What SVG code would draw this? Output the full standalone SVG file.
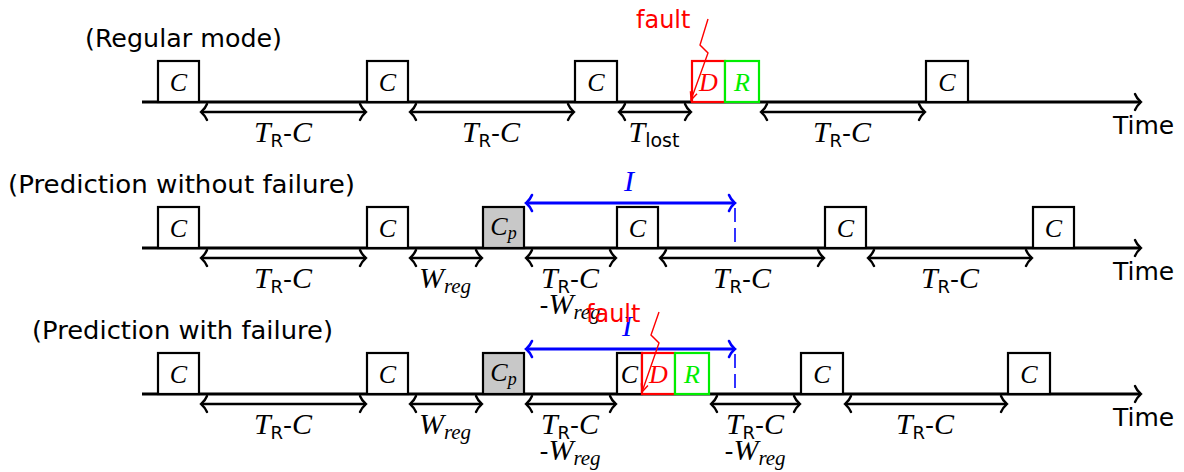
<svg xmlns="http://www.w3.org/2000/svg" width="1184" height="472" viewBox="0 0 1184 472">
<style>
.axis{stroke:#000;stroke-width:3;fill:none}
.box{stroke:#000;stroke-width:2.2;fill:#fff}
.boxp{stroke:#000;stroke-width:2.2;fill:#c8c8c8}
.dbox{stroke:#ff0000;stroke-width:2.2;fill:#fff}
.rbox{stroke:#00ee00;stroke-width:2.2;fill:#fff}
.dim{stroke:#000;stroke-width:2.4;fill:none;marker-start:url(#ah);marker-end:url(#ah)}
.iarr{stroke:#0000ff;stroke-width:2.8;fill:none;marker-start:url(#bh);marker-end:url(#bh)}
.dash{stroke:#0000ff;stroke-width:1.6;fill:none;stroke-dasharray:14 6}
.flt{stroke:#ff0000;stroke-width:1.4;fill:none;marker-end:url(#rh)}
.sans{font-family:"DejaVu Sans",sans-serif}
.m{font-family:"Liberation Serif",serif;font-style:italic}
.s{font-family:"DejaVu Sans",sans-serif;font-style:normal}
.lbl{font-size:30px;fill:#000}
.bt{font-size:26px;fill:#000}
.mode{font-size:25px;fill:#000}
.red{fill:#ff0000}
.grn{fill:#00ee00}
.blu{fill:#0000ff}
</style>
<defs>
<marker id="ah" viewBox="-10 -10 20 20" markerWidth="20" markerHeight="20" markerUnits="userSpaceOnUse" orient="auto-start-reverse" refX="0" refY="0">
<path d="M-6,-8 C-4,-3 -1,-1 0,0 C-1,1 -4,3 -6,8" fill="none" stroke="#000" stroke-width="2.4" stroke-linecap="round"/>
</marker>
<marker id="bh" viewBox="-10 -10 20 20" markerWidth="20" markerHeight="20" markerUnits="userSpaceOnUse" orient="auto-start-reverse" refX="0" refY="0">
<path d="M-6,-8 C-4,-3 -1,-1 0,0 C-1,1 -4,3 -6,8" fill="none" stroke="#0000ff" stroke-width="2.6" stroke-linecap="round"/>
</marker>
<marker id="rh" viewBox="-10 -10 20 20" markerWidth="20" markerHeight="20" markerUnits="userSpaceOnUse" orient="auto" refX="0" refY="0">
<path d="M-8,-3.5 L0,0 L-8,3.5" fill="none" stroke="#ff0000" stroke-width="1.4"/>
</marker>
</defs>

<!-- mode labels -->
<g id="label-regular"><text class="sans mode" x="85" y="47" textLength="197" lengthAdjust="spacingAndGlyphs">(Regular mode)</text></g>
<g id="label-pred-nofail"><text class="sans mode" x="8" y="193" textLength="347" lengthAdjust="spacingAndGlyphs">(Prediction without failure)</text></g>
<g id="label-pred-fail"><text class="sans mode" x="32" y="339" textLength="301" lengthAdjust="spacingAndGlyphs">(Prediction with failure)</text></g>

<!-- connectors -->
<g id="connectors">
<line class="axis" x1="142" y1="102" x2="1141" y2="102" marker-end="url(#ah)"/>
<line class="axis" x1="142" y1="248" x2="1141" y2="248" marker-end="url(#ah)"/>
<line class="axis" x1="142" y1="394" x2="1141" y2="394" marker-end="url(#ah)"/>
<!-- row 1 dims -->
<line class="dim" x1="201" y1="112" x2="366" y2="112"/>
<line class="dim" x1="410" y1="112" x2="574" y2="112"/>
<line class="dim" x1="619" y1="112" x2="691" y2="112"/>
<line class="dim" x1="761" y1="112" x2="925" y2="112"/>
<!-- row 2 dims -->
<line class="dim" x1="201" y1="258" x2="366" y2="258"/>
<line class="dim" x1="410" y1="258" x2="482" y2="258"/>
<line class="dim" x1="526" y1="258" x2="616" y2="258"/>
<line class="dim" x1="660" y1="258" x2="824" y2="258"/>
<line class="dim" x1="868" y1="258" x2="1032" y2="258"/>
<!-- row 3 dims -->
<line class="dim" x1="201" y1="404" x2="366" y2="404"/>
<line class="dim" x1="410" y1="404" x2="482" y2="404"/>
<line class="dim" x1="526" y1="404" x2="616" y2="404"/>
<line class="dim" x1="711" y1="404" x2="800" y2="404"/>
<line class="dim" x1="845" y1="404" x2="1007" y2="404"/>
<!-- interval I -->
<line class="iarr" x1="526" y1="203" x2="735" y2="203"/>
<line class="dash" x1="735" y1="208" x2="735" y2="248"/>
<line class="iarr" x1="526" y1="349" x2="735" y2="349"/>
<line class="dash" x1="735" y1="354" x2="735" y2="394"/>
</g>

<!-- row 1 boxes -->
<g id="r1-c1"><rect class="box" x="158" y="61" width="41" height="41"/><text class="m bt" x="178.5" y="91" text-anchor="middle">C</text></g>
<g id="r1-c2"><rect class="box" x="367" y="61" width="41" height="41"/><text class="m bt" x="387.5" y="91" text-anchor="middle">C</text></g>
<g id="r1-c3"><rect class="box" x="575" y="61" width="42" height="41"/><text class="m bt" x="596" y="91" text-anchor="middle">C</text></g>
<g id="r1-d"><rect class="dbox" x="692" y="61" width="33" height="41"/><text class="m bt red" x="708.5" y="91" text-anchor="middle">D</text></g>
<g id="r1-r"><rect class="rbox" x="725" y="61" width="34" height="41"/><text class="m bt grn" x="742" y="91" text-anchor="middle">R</text></g>
<g id="r1-c5"><rect class="box" x="926" y="61" width="42" height="41"/><text class="m bt" x="947" y="91" text-anchor="middle">C</text></g>

<!-- row 2 boxes -->
<g id="r2-c1"><rect class="box" x="158" y="207" width="41" height="41"/><text class="m bt" x="178.5" y="237" text-anchor="middle">C</text></g>
<g id="r2-c2"><rect class="box" x="367" y="207" width="41" height="41"/><text class="m bt" x="387.5" y="237" text-anchor="middle">C</text></g>
<g id="r2-cp"><rect class="boxp" x="483" y="207" width="41" height="41"/><text class="m bt" x="503.5" y="235" text-anchor="middle">C<tspan font-size="18" dy="4">p</tspan></text></g>
<g id="r2-c4"><rect class="box" x="617" y="207" width="41" height="41"/><text class="m bt" x="637.5" y="237" text-anchor="middle">C</text></g>
<g id="r2-c5"><rect class="box" x="825" y="207" width="41" height="41"/><text class="m bt" x="845.5" y="237" text-anchor="middle">C</text></g>
<g id="r2-c6"><rect class="box" x="1033" y="207" width="41" height="41"/><text class="m bt" x="1053.5" y="237" text-anchor="middle">C</text></g>

<!-- row 3 boxes -->
<g id="r3-c1"><rect class="box" x="158" y="353" width="41" height="41"/><text class="m bt" x="178.5" y="383" text-anchor="middle">C</text></g>
<g id="r3-c2"><rect class="box" x="367" y="353" width="41" height="41"/><text class="m bt" x="387.5" y="383" text-anchor="middle">C</text></g>
<g id="r3-cp"><rect class="boxp" x="483" y="353" width="41" height="41"/><text class="m bt" x="503.5" y="381" text-anchor="middle">C<tspan font-size="18" dy="4">p</tspan></text></g>
<g id="r3-c4"><rect class="box" x="617" y="353" width="25" height="41"/><text class="m bt" x="629.5" y="383" text-anchor="middle">C</text></g>
<g id="r3-d"><rect class="dbox" x="642" y="353" width="33" height="41"/><text class="m bt red" x="658.5" y="383" text-anchor="middle">D</text></g>
<g id="r3-r"><rect class="rbox" x="675" y="353" width="34" height="41"/><text class="m bt grn" x="692" y="383" text-anchor="middle">R</text></g>
<g id="r3-c5"><rect class="box" x="801" y="353" width="42" height="41"/><text class="m bt" x="822" y="383" text-anchor="middle">C</text></g>
<g id="r3-c6"><rect class="box" x="1008" y="353" width="42" height="41"/><text class="m bt" x="1029" y="383" text-anchor="middle">C</text></g>

<!-- dimension labels -->
<g id="labels" class="lbl">
<!-- row 1 -->
<text x="283" y="142" text-anchor="middle"><tspan class="m">T</tspan><tspan class="s" font-size="18" dy="5">R</tspan><tspan class="s" font-size="25" dy="-5">-</tspan><tspan class="m">C</tspan></text>
<text x="491" y="142" text-anchor="middle"><tspan class="m">T</tspan><tspan class="s" font-size="18" dy="5">R</tspan><tspan class="s" font-size="25" dy="-5">-</tspan><tspan class="m">C</tspan></text>
<text x="654" y="142" text-anchor="middle"><tspan class="m">T</tspan><tspan class="s" font-size="19" dy="5">lost</tspan></text>
<text x="842" y="142" text-anchor="middle"><tspan class="m">T</tspan><tspan class="s" font-size="18" dy="5">R</tspan><tspan class="s" font-size="25" dy="-5">-</tspan><tspan class="m">C</tspan></text>
<!-- row 2 -->
<text x="283" y="288" text-anchor="middle"><tspan class="m">T</tspan><tspan class="s" font-size="18" dy="5">R</tspan><tspan class="s" font-size="25" dy="-5">-</tspan><tspan class="m">C</tspan></text>
<text x="445" y="288" text-anchor="middle"><tspan class="m">W</tspan><tspan class="m" font-size="21" dy="5">reg</tspan></text>
<text x="570" y="288" text-anchor="middle"><tspan class="m">T</tspan><tspan class="s" font-size="18" dy="5">R</tspan><tspan class="s" font-size="25" dy="-5">-</tspan><tspan class="m">C</tspan></text>
<text x="570" y="314" text-anchor="middle"><tspan class="s" font-size="25">-</tspan><tspan class="m">W</tspan><tspan class="m" font-size="21" dy="5">reg</tspan></text>
<text x="742" y="288" text-anchor="middle"><tspan class="m">T</tspan><tspan class="s" font-size="18" dy="5">R</tspan><tspan class="s" font-size="25" dy="-5">-</tspan><tspan class="m">C</tspan></text>
<text x="950" y="288" text-anchor="middle"><tspan class="m">T</tspan><tspan class="s" font-size="18" dy="5">R</tspan><tspan class="s" font-size="25" dy="-5">-</tspan><tspan class="m">C</tspan></text>
<text class="m blu" x="629" y="191" text-anchor="middle">I</text>
<!-- row 3 -->
<text x="283" y="434" text-anchor="middle"><tspan class="m">T</tspan><tspan class="s" font-size="18" dy="5">R</tspan><tspan class="s" font-size="25" dy="-5">-</tspan><tspan class="m">C</tspan></text>
<text x="445" y="434" text-anchor="middle"><tspan class="m">W</tspan><tspan class="m" font-size="21" dy="5">reg</tspan></text>
<text x="570" y="434" text-anchor="middle"><tspan class="m">T</tspan><tspan class="s" font-size="18" dy="5">R</tspan><tspan class="s" font-size="25" dy="-5">-</tspan><tspan class="m">C</tspan></text>
<text x="570" y="460" text-anchor="middle"><tspan class="s" font-size="25">-</tspan><tspan class="m">W</tspan><tspan class="m" font-size="21" dy="5">reg</tspan></text>
<text x="755" y="434" text-anchor="middle"><tspan class="m">T</tspan><tspan class="s" font-size="18" dy="5">R</tspan><tspan class="s" font-size="25" dy="-5">-</tspan><tspan class="m">C</tspan></text>
<text x="755" y="460" text-anchor="middle"><tspan class="s" font-size="25">-</tspan><tspan class="m">W</tspan><tspan class="m" font-size="21" dy="5">reg</tspan></text>
<text x="925" y="434" text-anchor="middle"><tspan class="m">T</tspan><tspan class="s" font-size="18" dy="5">R</tspan><tspan class="s" font-size="25" dy="-5">-</tspan><tspan class="m">C</tspan></text>
<text class="m blu" x="627" y="336" text-anchor="middle">I</text>
</g>

<!-- Time labels -->
<g id="time-labels" class="sans" font-size="25">
<text x="1113" y="134">Time</text>
<text x="1113" y="280">Time</text>
<text x="1113" y="426">Time</text>
</g>

<!-- faults -->
<g id="fault-1">
<text class="sans red" font-size="24" x="636" y="28">fault</text>
<path class="flt" d="M708,19 L700,45 L708,53 L691,100"/>
</g>
<g id="fault-2">
<text class="sans red" font-size="24" x="586" y="322">fault</text>
<path class="flt" d="M659,312 L651,335 L659,343 L642,392"/>
</g>
</svg>
